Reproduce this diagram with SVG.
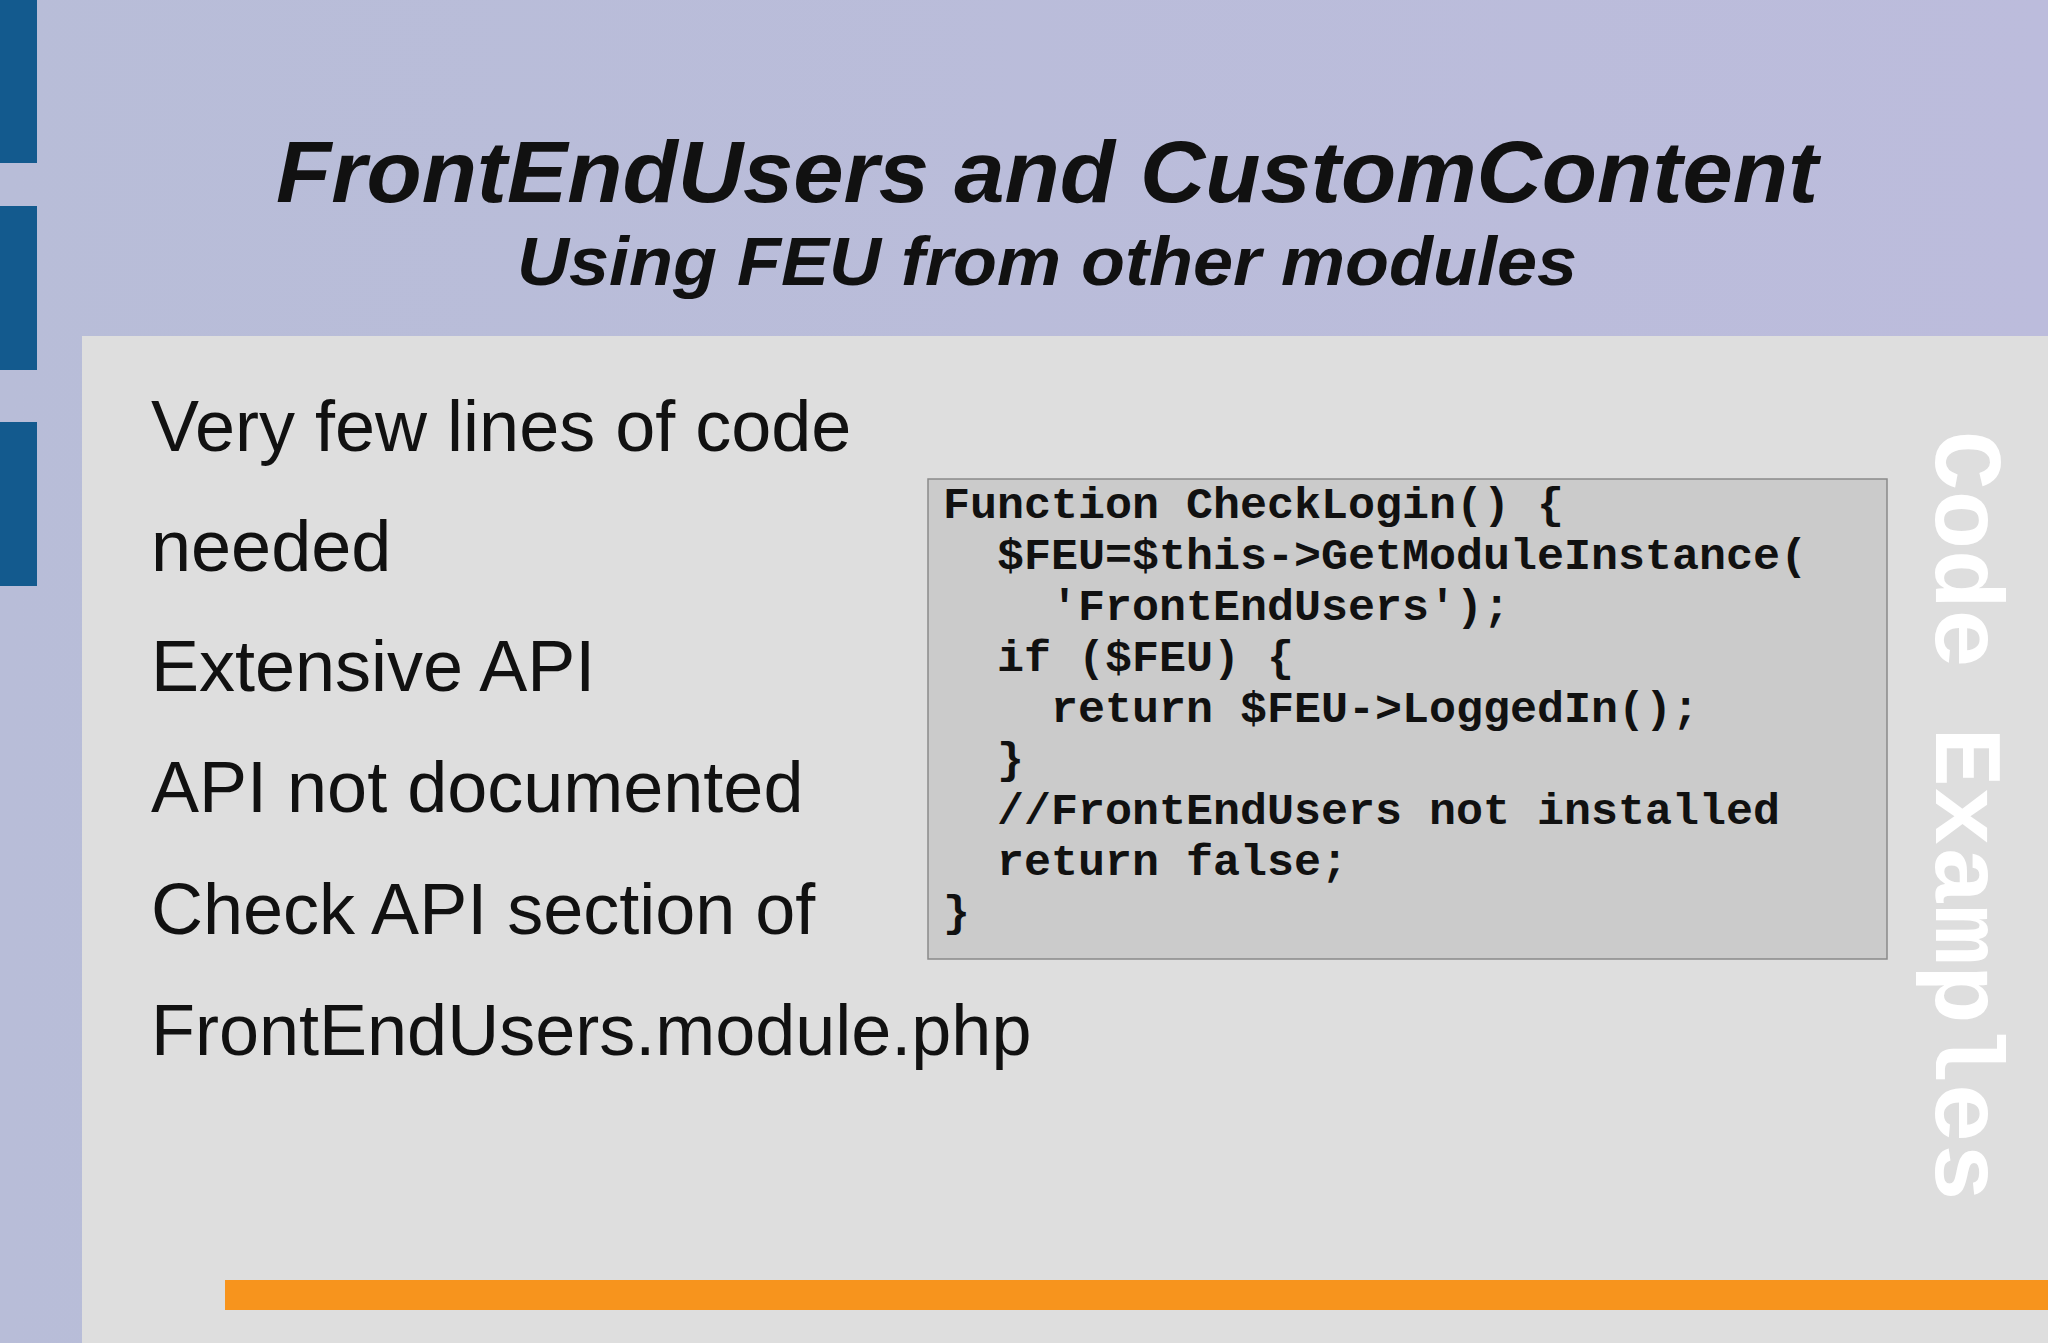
<svg xmlns="http://www.w3.org/2000/svg" width="2048" height="1343" viewBox="0 0 2048 1343">
<defs>
<linearGradient id="bg" x1="0" y1="0" x2="1" y2="0"><stop offset="0" stop-color="#b8bdd8"/><stop offset="1" stop-color="#bcbcdc"/></linearGradient>
<style>
.bar{fill:#135a8e}
.t{font-family:"Liberation Sans",Arial,sans-serif;font-weight:bold;font-style:italic;fill:#111;text-anchor:middle}
.b{font-family:"Liberation Sans",Arial,sans-serif;font-size:72px;fill:#111}
.c{font-family:"Liberation Mono","Courier New",monospace;font-weight:bold;font-size:45px;fill:#111;white-space:pre}
</style>
</defs>
<rect width="2048" height="1343" fill="url(#bg)"/>
<rect class="bar" x="0" y="0" width="37" height="163"/>
<rect class="bar" x="0" y="206" width="37" height="164"/>
<rect class="bar" x="0" y="422" width="37" height="164"/>
<rect x="82" y="336" width="1966" height="1007" fill="#dedede"/>
<text class="t" x="1047" y="202" font-size="88" textLength="1542" lengthAdjust="spacingAndGlyphs">FrontEndUsers and CustomContent</text>
<text class="t" x="1047" y="285" font-size="68" textLength="1060" lengthAdjust="spacingAndGlyphs">Using FEU from other modules</text>
<g id="bullets">
<text class="b" x="151" y="451">Very few lines of code</text>
<text class="b" x="151" y="571">needed</text>
<text class="b" x="151" y="691">Extensive API</text>
<text class="b" x="151" y="812">API not documented</text>
<text class="b" x="151" y="934">Check API section of</text>
<text class="b" x="151" y="1055">FrontEndUsers.module.php</text>
</g>
<g id="code">
<rect x="928" y="479" width="959" height="480" fill="#cbcbcb" stroke="#8a8a8a" stroke-width="1.5"/>
<text class="c" x="943" y="518">Function CheckLogin() {</text>
<text class="c" x="997" y="569">$FEU=$this-&gt;GetModuleInstance(</text>
<text class="c" x="1051" y="620">'FrontEndUsers');</text>
<text class="c" x="997" y="671">if ($FEU) {</text>
<text class="c" x="1051" y="722">return $FEU-&gt;LoggedIn();</text>
<text class="c" x="997" y="773">}</text>
<text class="c" x="997" y="824">//FrontEndUsers not installed</text>
<text class="c" x="997" y="875">return false;</text>
<text class="c" x="943" y="926">}</text>
</g>
<text transform="translate(1936,431) rotate(90)" font-family="Liberation Mono,monospace" font-weight="bold" font-size="96" fill="#fff" textLength="771" lengthAdjust="spacingAndGlyphs">Code Examples</text>
<rect x="225" y="1280" width="1823" height="30" fill="#f7941d"/>
</svg>
